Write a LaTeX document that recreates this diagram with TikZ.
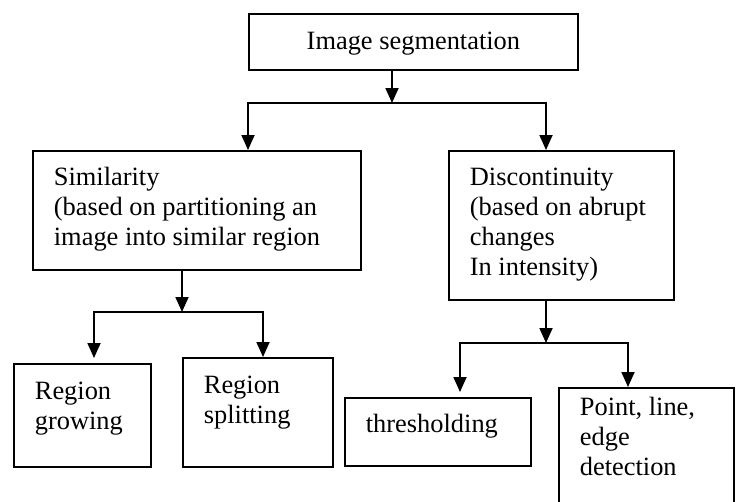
\documentclass[tikz,border=0pt]{standalone}
\usepackage{fontspec}
\setmainfont{Liberation Serif}
\usepackage{tikz}
\usetikzlibrary{arrows.meta}
\tikzset{
  blockbox/.style={draw, line width=1.8pt, anchor=north west, inner xsep=21pt, inner ysep=0pt,
    align=flush left, text height=35pt, font={\fontsize{26.4}{30}\selectfont}},
  link/.style={line width=1.8pt}
}

\begin{document}
\begin{tikzpicture}[x=1pt, y=-1pt, >={Triangle[width=13pt,length=15pt]}]
      \useasboundingbox (0,0) rectangle (739,501);
      \node[blockbox, align=center, minimum width=329pt, text height=36pt, text depth=20pt] (seg) at (248,13) {Image segmentation};
      \node[blockbox, text width=286pt, text depth=84pt] (sim) at (32,150) {Similarity\\(based on partitioning an\\image into similar region};
      \node[blockbox, text width=183pt, text depth=114pt] (disc) at (448,150) {Discontinuity\\(based on abrupt\\changes\\In intensity)};
      \node[blockbox, text width=95pt, text height=36pt, text depth=67pt] (grow) at (13,363) {Region\\growing};
      \node[blockbox, text width=108pt, text height=36pt, text depth=73pt] (split) at (182,357) {Region\\splitting};
      \node[blockbox, text width=144pt, text depth=33pt] (thresh) at (344,397) {thresholding};
      \node[blockbox, text width=133pt, text height=28pt, text depth=130pt] (point) at (558,387) {Point, line,\\edge\\detection};

      \coordinate (topj) at (392,103);
      \coordinate (topl) at (248,103);
      \coordinate (topr) at (546,103);
      \draw[link, ->] (seg.south -| topj) -- (topj);
      \draw[link, <->] (topl |- sim.north) -- (topl) -- (topr) -- (topr |- disc.north);

      \coordinate (simj) at (182,312);
      \coordinate (siml) at (94,312);
      \coordinate (simr) at (263,312);
      \draw[link, ->] (sim.south -| simj) -- (simj);
      \draw[link, <->, shorten <=5pt] (siml |- grow.north) -- (siml) -- (simr) -- (simr |- split.north);

      \coordinate (discj) at (546,343);
      \coordinate (discl) at (460,343);
      \coordinate (discr) at (628,343);
      \draw[link, ->] (disc.south -| discj) -- (discj);
      \draw[link, <->, shorten <=5pt] (discl |- thresh.north) -- (discl) -- (discr) -- (discr |- point.north);
    \end{tikzpicture}
\end{document}
